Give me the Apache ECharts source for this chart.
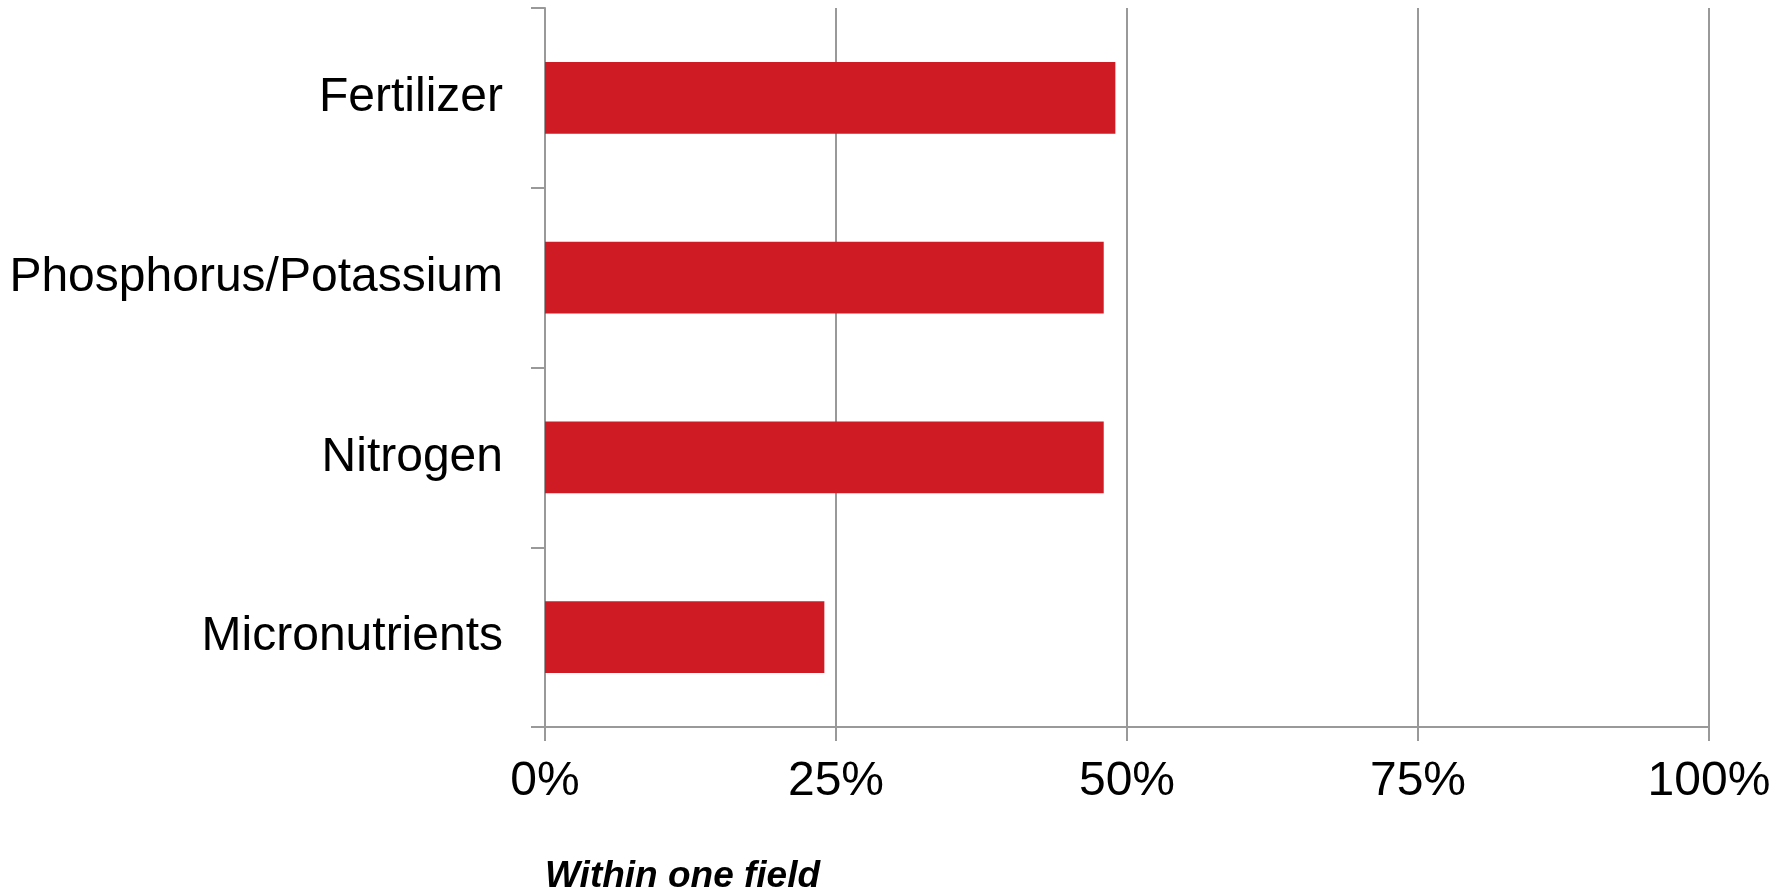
<!DOCTYPE html>
<html>
<head>
<meta charset="utf-8">
<script src="https://cdn.jsdelivr.net/npm/echarts@6/dist/echarts.min.js"></script>
<style>
  html, body { margin: 0; padding: 0; background: #ffffff; }
  #chart { width: 1790px; height: 894px; }
</style>
</head>
<body>
<div id="chart"></div>
<script>
// Categories listed bottom-to-top (category axis on y starts from the bottom)
const categories = ['Micronutrients', 'Nitrogen', 'Phosphorus/Potassium', 'Fertilizer'];
// Share of respondents, percent
const shares = [24, 48, 48, 49];
const xTicks = [0, 25, 50, 75, 100];
const footnote = 'Within one field';

const FONT = 'Liberation Sans, Arial, Helvetica, sans-serif';
const axisGray = '#999999';

const chart = echarts.init(document.getElementById('chart'), null, { renderer: 'canvas' });
chart.setOption({
  animation: false,
  backgroundColor: '#ffffff',
  grid: { left: 545, right: 81, top: 8, bottom: 167, containLabel: false },
  title: {
    text: footnote,
    left: 545,
    top: 858,
    padding: 0,
    textStyle: { fontFamily: FONT, fontSize: 37, fontWeight: 'bold', fontStyle: 'italic', color: '#000000' }
  },
  xAxis: {
    type: 'value',
    min: xTicks[0],
    max: xTicks[xTicks.length - 1],
    interval: xTicks[1] - xTicks[0],
    axisLine: { show: true, lineStyle: { color: axisGray, width: 2 } },
    axisTick: { show: true, length: 14, lineStyle: { color: axisGray, width: 2 } },
    splitLine: { show: true, lineStyle: { color: axisGray, width: 2 } },
    axisLabel: {
      margin: 31,
      fontFamily: FONT,
      fontSize: 48,
      color: '#000000',
      formatter: v => v + '%'
    }
  },
  yAxis: {
    type: 'category',
    data: categories,
    axisLine: { show: true, lineStyle: { color: axisGray, width: 2 } },
    axisTick: { show: true, length: 14, alignWithLabel: false, lineStyle: { color: axisGray, width: 2 } },
    axisLabel: { margin: 42, fontFamily: FONT, fontSize: 48, color: '#000000' },
    splitLine: { show: false }
  },
  series: [{
    type: 'bar',
    data: shares,
    barWidth: '40%',
    itemStyle: { color: '#CF1C24' },
    label: { show: false }
  }]
});
</script>
</body>
</html>
